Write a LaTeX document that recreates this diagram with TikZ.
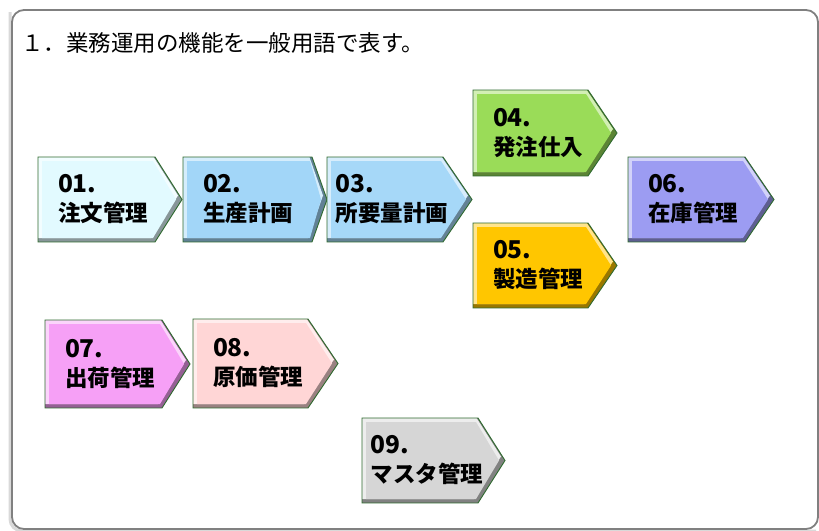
\documentclass[tikz,border=0pt]{standalone}
\usepackage{fontspec}
\newfontfamily\cjk{Noto Sans CJK JP}
\usetikzlibrary{calc}
\definecolor{c01}{HTML}{E2FAFF}
\definecolor{c02}{HTML}{A2D6F8}
\definecolor{c03}{HTML}{A6D8F8}
\definecolor{c04}{HTML}{9ADC58}
\definecolor{c05}{HTML}{FFC600}
\definecolor{c06}{HTML}{9C9CF2}
\definecolor{c07}{HTML}{F6A0F6}
\definecolor{c08}{HTML}{FFD6D6}
\definecolor{c09}{HTML}{D6D6D6}
\definecolor{edge}{HTML}{2F6A2F}
\newcommand\numfont{\fontsize{24.5}{29}\selectfont}
\tikzset{
  lbl/.style={align=left, inner sep=0pt, text=black, font=\cjk\bfseries\fontsize{22.5}{29}\selectfont},
  title/.style={anchor=west, inner sep=0pt, text=black, font=\cjk\fontsize{22.5}{26}\selectfont},
  frame/.style={draw=black!50, line width=1.8pt, rounded corners=12pt},
  boxedge/.style={draw=edge, line width=0.9pt}
}
% #1 name, #2 left, #3 top, #4 body end, #5 tip x, #6 bottom, #7 colour, #8 number, #9 text
\newcommand\abox[9]{%
  \begin{scope}
    \clip (#2,#3) -- (#4,#3) -- (#5,{(#3+#6)/2}) -- (#4,#6) -- (#2,#6) -- cycle;
    \fill[#7!60!black] (#2,#3) rectangle (#5,#6);
    \fill[#7!45!white] ({#2-4},{#3-4}) -- ({#4-4},{#3-4}) -- ({#5-4},{(#3+#6)/2-4}) -- ({#4-4},{#6-4}) -- ({#2-4},{#6-4}) -- cycle;
    \fill[#7] ({#2+4},{#3+4}) -- ({#4-2},{#3+4}) -- ({#5-6},{(#3+#6)/2}) -- ({#4-2},{#6-4}) -- ({#2+4},{#6-4}) -- cycle;
  \end{scope}
  \path[boxedge] (#2,#3) -- (#4,#3) -- (#5,{(#3+#6)/2}) -- (#4,#6) -- (#2,#6) -- cycle;
  \node[lbl] (#1) at ({#2+65},{(#3+#6)/2}) {{\numfont #8}\\#9};
}
\begin{document}
\begin{tikzpicture}[x=1pt,y=-1pt]
  \useasboundingbox (0,0) rectangle (819,530);
  \fill[white] (0,0) rectangle (819,530);
  \draw[black!15, line width=3pt, rounded corners=12pt] (10,12) -- (10,531) -- (816,531);
  \path[frame] (12,10) rectangle (818,529);
  \node[title] (t) at (21,43) {１．業務運用の機能を一般用語で表す。};
  \abox{b01}{38}{157}{155}{182}{242}{c01}{01.}{注文管理}
  \abox{b02}{183}{157}{312}{327}{242}{c02}{02.}{生産計画}
  \abox{b03}{327}{157}{443}{472}{242}{c03}{03.}{所要量計画}
  \abox{b04}{473}{90}{588}{617}{176}{c04}{04.}{発注仕入}
  \abox{b05}{473}{223}{588}{617}{308}{c05}{05.}{製造管理}
  \abox{b06}{628}{157}{745}{774}{242}{c06}{06.}{在庫管理}
  \abox{b07}{45}{320}{162}{190}{408}{c07}{07.}{出荷管理}
  \abox{b08}{193}{319}{308}{338}{408}{c08}{08.}{原価管理}
  \abox{b09}{362}{418}{478}{505}{503}{c09}{09.}{マスタ管理}
\end{tikzpicture}
\end{document}
